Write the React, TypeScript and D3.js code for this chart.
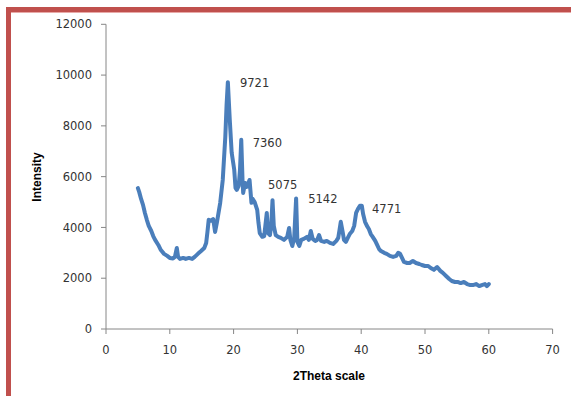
import React from "react";
import * as d3 from "d3";

// 2theta (deg) and intensity
const twoTheta = [
  5.0, 5.2, 5.5, 5.8, 6.1, 6.4, 6.7, 7.1, 7.4, 7.7, 8.2, 8.6, 9.1, 9.6, 10.0,
  10.5, 10.8, 11.1, 11.3, 11.6, 12.1, 12.5, 13.0, 13.5, 13.9, 14.4, 14.9, 15.4,
  15.7, 15.9, 16.1, 16.5, 16.8, 17.1, 17.4, 17.9, 18.3, 18.7, 18.9, 19.1, 19.4,
  19.7, 20.1, 20.3, 20.5, 20.8, 21.0, 21.2, 21.4, 21.5, 21.8, 22.1, 22.5, 22.8,
  23.0, 23.3, 23.7, 23.9, 24.1, 24.5, 24.8, 25.2, 25.4, 25.7, 25.9, 26.1, 26.3,
  26.6, 27.0, 27.4, 27.9, 28.4, 28.7, 28.9, 29.2, 29.5, 29.8, 30.0, 30.3, 30.6,
  31.0, 31.5, 31.8, 32.1, 32.4, 32.8, 33.1, 33.4, 33.7, 34.2, 34.6, 35.1, 35.6,
  36.1, 36.4, 36.6, 36.8, 37.1, 37.3, 37.6, 37.9, 38.2, 38.6, 38.9, 39.2, 39.5,
  39.8, 40.1, 40.3, 40.6, 40.9, 41.2, 41.5, 41.8, 42.2, 42.5, 42.8, 43.1, 43.6,
  44.0, 44.5, 45.0, 45.5, 45.8, 46.1, 46.4, 46.7, 47.2, 47.6, 48.1, 48.6, 49.1,
  49.5, 50.0, 50.5, 50.9, 51.4, 51.9, 52.4, 52.8, 53.3, 53.8, 54.2, 54.7, 55.2,
  55.6, 56.1, 56.6, 57.1, 57.5, 58.0, 58.5, 58.9, 59.4, 59.7, 60.0,
];
const intensity = [
  5550, 5400, 5120, 4890, 4570, 4300, 4060, 3860, 3660, 3510, 3310, 3110, 2960,
  2880, 2800, 2780, 2840, 3190, 2840, 2760, 2800, 2760, 2800, 2760, 2840, 2960,
  3070, 3190, 3390, 3820, 4300, 4260, 4330, 3820, 4220, 4970, 5870, 7570, 8830,
  9721, 8240, 6940, 6270, 5560, 5480, 5640, 6270, 7450, 5870, 5360, 5750, 5600,
  5870, 4970, 5120, 5000, 4690, 4180, 3780, 3630, 3660, 4570, 3780, 3700, 4100,
  5075, 4060, 3700, 3630, 3590, 3510, 3630, 3980, 3510, 3270, 3590, 5142, 3430,
  3270, 3510, 3550, 3630, 3510, 3860, 3550, 3470, 3510, 3700, 3470, 3430, 3470,
  3390, 3350, 3470, 3590, 3900, 4220, 3820, 3510, 3430, 3590, 3740, 3860, 4060,
  4570, 4730, 4850, 4850, 4530, 4220, 4060, 3940, 3740, 3630, 3470, 3310, 3150,
  3070, 3000, 2960, 2880, 2840, 2880, 3000, 2960, 2800, 2640, 2600, 2600, 2680,
  2600, 2560, 2520, 2480, 2480, 2400, 2330, 2440, 2290, 2210, 2090, 1970, 1890,
  1850, 1850, 1810, 1850, 1770, 1730, 1730, 1770, 1690, 1730, 1770, 1690, 1770,
];

// peak labels and where they sit (data units)
const labelText = ["9721", "7360", "5075", "5142", "4771"];
const labelX = [21.0, 23.0, 25.4, 31.7, 41.7];
const labelY = [9690, 7330, 5670, 5120, 4730];

const xTicks = [0, 10, 20, 30, 40, 50, 60, 70];
const yTicks = [0, 2000, 4000, 6000, 8000, 10000, 12000];

const W = 571;
const H = 396;

export default function App() {
  const x = d3.scaleLinear().domain([0, 70]).range([106, 552.6]);
  const y = d3.scaleLinear().domain([0, 12000]).range([329, 24.3]);

  const line = d3
    .line<number>()
    .x((d, i) => x(twoTheta[i]))
    .y((d) => y(d));

  const axisColor = "#868686";
  const textColor = "#333333";
  const tickFont = "DejaVu Sans, sans-serif";

  return (
    <>
      <style>{`body{margin:0}`}</style>
      <svg width={W} height={H} style={{ display: "block" }}>
        <rect width={W} height={H} fill="#fff" />
        {/* frame */}
        <rect
          x={8.5}
          y={9.5}
          width={W + 20}
          height={H + 20}
          fill="none"
          stroke="#C0504D"
          strokeWidth={5}
        />
        <line x1={11} x2={W} y1={12.5} y2={12.5} stroke="#E8A9A7" strokeWidth={1} />

        {/* y axis */}
        <line x1={x(0)} x2={x(0)} y1={y(12000)} y2={y(0)} stroke={axisColor} />
        {yTicks.map((t) => (
          <g key={"y" + t}>
            <line x1={x(0) - 5} x2={x(0)} y1={y(t)} y2={y(t)} stroke={axisColor} />
            <text
              x={92}
              y={y(t)}
              dy="0.36em"
              textAnchor="end"
              fontFamily={tickFont}
              fontSize={11.5}
              fill={textColor}
            >
              {t}
            </text>
          </g>
        ))}

        {/* x axis */}
        <line x1={x(0)} x2={x(70)} y1={y(0)} y2={y(0)} stroke={axisColor} />
        {xTicks.map((t) => (
          <g key={"x" + t}>
            <line x1={x(t)} x2={x(t)} y1={y(0)} y2={y(0) + 5} stroke={axisColor} />
            <text
              x={x(t)}
              y={350}
              dy="0.36em"
              textAnchor="middle"
              fontFamily={tickFont}
              fontSize={11.5}
              fill={textColor}
            >
              {t}
            </text>
          </g>
        ))}

        {/* series */}
        <path
          d={line(intensity) || ""}
          fill="none"
          stroke="#4A7EBB"
          strokeWidth={4}
          strokeLinejoin="round"
          strokeLinecap="round"
        />

        {labelText.map((s, i) => (
          <text
            key={s}
            x={x(labelX[i])}
            y={y(labelY[i])}
            dy="0.36em"
            fontFamily={tickFont}
            fontSize={11.5}
            fill={textColor}
          >
            {s}
          </text>
        ))}

        {/* titles */}
        <text
          x={329}
          y={376}
          dy="0.36em"
          textAnchor="middle"
          fontFamily="Liberation Sans, Arial, sans-serif"
          fontWeight="bold"
          fontSize={12}
          fill="#000"
        >
          2Theta scale
        </text>
        <text
          transform="translate(37,177) rotate(-90)"
          dy="0.36em"
          textAnchor="middle"
          fontFamily="Liberation Sans, Arial, sans-serif"
          fontWeight="bold"
          fontSize={12}
          fill="#000"
        >
          Intensity
        </text>
      </svg>
    </>
  );
}
